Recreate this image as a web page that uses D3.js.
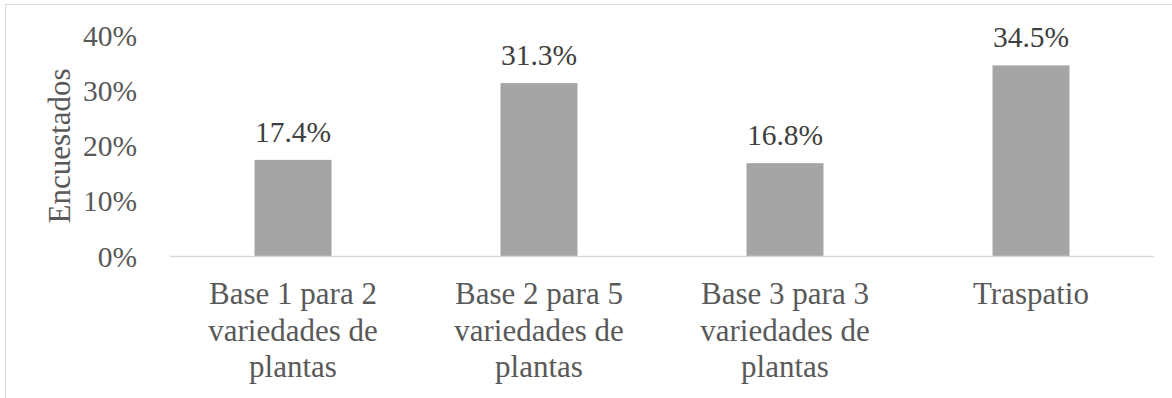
<!DOCTYPE html>
<html><head><meta charset="utf-8">
<script src="https://cdn.jsdelivr.net/npm/d3@7"></script>
<style>body{margin:0;background:#fff}svg{display:block}</style>
</head><body>
<svg id="c" width="1172" height="398"></svg>
<script>
const categories = [["Base 1 para 2","variedades de","plantas"],["Base 2 para 5","variedades de","plantas"],["Base 3 para 3","variedades de","plantas"],["Traspatio"]];
const values = [17.4, 31.3, 16.8, 34.5];
const yTicks = [0, 10, 20, 30, 40];
const yTitle = "Encuestados";

const svg = d3.select("#c");
const font = "'Liberation Serif','Times New Roman',serif";
const txt = "#595959";
const x0 = 170, x1 = 1154, yTop = 35, yBase = 256;

svg.append("rect").attr("x",5.5).attr("y",4.5).attr("width",1180).attr("height",420)
  .attr("fill","none").attr("stroke","#d9d9d9").attr("stroke-width",1);

const x = d3.scaleBand().domain(d3.range(categories.length)).range([x0,x1]).paddingInner(0.687).paddingOuter(0.3435);
const y = d3.scaleLinear().domain([0,40]).range([yBase,yTop]);

svg.append("g").selectAll("rect").data(values).join("rect")
  .attr("x",(d,i)=>x(i)).attr("width",x.bandwidth())
  .attr("y",d=>y(d)).attr("height",d=>y(0)-y(d)).attr("fill","#a5a5a5");

svg.append("line").attr("x1",x0).attr("x2",x1).attr("y1",yBase+0.5).attr("y2",yBase+0.5)
  .attr("stroke","#d9d9d9").attr("stroke-width",1.5);

svg.append("g").selectAll("text").data(yTicks).join("text")
  .attr("x",137).attr("y",d=>y(d)+10.5).attr("text-anchor","end")
  .attr("font-family",font).attr("font-size",29.5).attr("fill",txt)
  .text(d=>d+"%");

svg.append("g").selectAll("text").data(values).join("text")
  .attr("x",(d,i)=>x(i)+x.bandwidth()/2).attr("y",d=>y(d)-18).attr("text-anchor","middle")
  .attr("font-family",font).attr("font-size",29.5).attr("fill","#404040")
  .text(d=>d.toFixed(1)+"%");

const cat = svg.append("g").selectAll("text").data(categories).join("text")
  .attr("x",(d,i)=>x(i)+x.bandwidth()/2).attr("y",304).attr("text-anchor","middle")
  .attr("font-family",font).attr("font-size",31).attr("fill",txt);
cat.selectAll("tspan").data(d=>d).join("tspan")
  .attr("x",function(){return this.parentNode.getAttribute("x");})
  .attr("dy",(d,i)=>i===0?0:36.5).text(d=>d);

svg.append("text").attr("transform","translate(70,146) rotate(-90)").attr("text-anchor","middle")
  .attr("font-family",font).attr("font-size",31).attr("fill",txt).text(yTitle);
</script>
</body></html>
